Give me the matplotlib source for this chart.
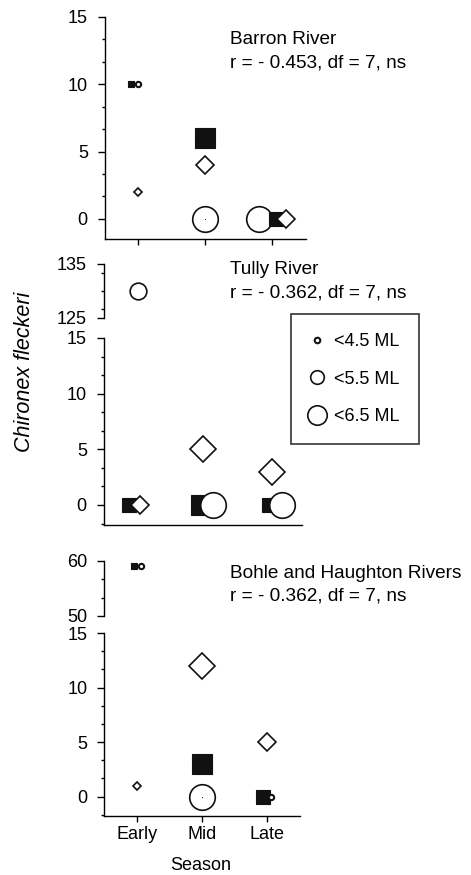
import matplotlib
matplotlib.use('Agg')
import matplotlib.pyplot as plt
from matplotlib.lines import Line2D
from matplotlib.ticker import MultipleLocator, FixedLocator

plt.rcParams['font.family'] = ['Liberation Sans', 'DejaVu Sans']

W, H = 471, 875

seasons = ['Early', 'Mid', 'Late']
rivers = ['Barron River', 'Tully River', 'Bohle and Haughton Rivers']
stats = ['r = - 0.453, df = 7, ns', 'r = - 0.362, df = 7, ns', 'r = - 0.362, df = 7, ns']
size_labels = ['<4.5 ML', '<5.5 ML', '<6.5 ML']

# one entry per point, listed in drawing order
# x = season (1 Early, 2 Mid, 3 Late, with the small side shift of the original),
# size = size class (1 <4.5 ML, 2 <5.5 ML, 3 <6.5 ML)
barron_shape = ['circle', 'circle', 'dot', 'square', 'circle', 'square', 'square', 'diamond', 'diamond', 'diamond']
barron_x = [2.8, 2.0, 2.0, 0.895, 1.0, 2.0, 3.05, 1.0, 2.0, 3.2]
barron_y = [0, 0, 0, 10, 10, 6, 0, 2, 4, 0]
barron_size = [3, 3, 0, 1, 1, 3, 2, 1, 2, 2]

tully_shape = ['square', 'square', 'square', 'circle', 'circle', 'circle', 'diamond', 'diamond', 'diamond']
tully_x = [0.89, 1.98, 3.0, 1.02, 2.15, 3.2, 1.05, 2.0, 3.05]
tully_y = [0, 0, 0, 130, 0, 0, 0, 5, 3]
tully_size = [2, 3, 2, 2, 3, 3, 2, 3, 3]

bohle_shape = ['square', 'square', 'square', 'circle', 'circle', 'dot', 'circle', 'diamond', 'diamond', 'diamond']
bohle_x = [0.95, 2.0, 2.93, 1.07, 2.0, 2.0, 3.05, 1.0, 2.0, 3.0]
bohle_y = [59, 3, 0, 59, 0, 0, 0, 1, 12, 5]
bohle_size = [1, 3, 2, 1, 3, 0, 1, 1, 3, 2]

# marker sizes in points for each size class
sq_ms = {1: 5.0, 2: 10.5, 3: 14.5}
dia_ms = {1: 3.6, 2: 8.9, 3: 13.4}
circ_ms = {1: 3.8, 2: 12.0, 3: 18.4}
legend_ms = [4.0, 9.8, 14.0]
black = '#111111'


def px_axes(left, top, right, bottom):
    return fig.add_axes([left / W, 1 - bottom / H, (right - left) / W, (bottom - top) / H])


def draw_points(ax, shapes, xs, ys, sizes):
    for i, (s, x, y, c) in enumerate(zip(shapes, xs, ys, sizes)):
        z = 3 + i
        if s == 'square':
            ax.plot(x, y, marker='s', ms=sq_ms[c], mfc=black, mec=black, mew=0.8, ls='none', zorder=z)
        elif s == 'diamond':
            ax.plot(x, y, marker='D', ms=dia_ms[c], mfc='white', mec=black, mew=1.2, ls='none', zorder=z)
        elif s == 'circle':
            lw = 1.5 if c == 1 else 1.2
            ax.plot(x, y, marker='o', ms=circ_ms[c], mfc='white', mec=black, mew=lw, ls='none', zorder=z)
        else:
            ax.plot(x, y, marker='o', ms=0.8, mfc=black, mec=black, mew=0, ls='none', zorder=z)


def style_y(ax, lo, hi, major, minor):
    ax.set_ylim(lo, hi)
    ax.set_xlim(0.5, 3.5)
    ax.yaxis.set_major_locator(FixedLocator(major))
    ax.yaxis.set_minor_locator(MultipleLocator(minor))
    ax.tick_params(axis='y', which='major', direction='out', length=5, width=1, labelsize=13, pad=7)
    ax.tick_params(axis='y', which='minor', direction='out', length=2.5, width=1)
    for side in ['top', 'right']:
        ax.spines[side].set_visible(False)
    for side in ['left', 'bottom']:
        ax.spines[side].set_linewidth(1.0)


def top_part(ax, lo, hi):
    style_y(ax, lo, hi, [lo, hi], (hi - lo) / 3)
    ax.spines['bottom'].set_visible(False)
    ax.tick_params(axis='x', bottom=False, labelbottom=False)
    ax.patch.set_alpha(0)


fig = plt.figure(figsize=(W / 100, H / 100), dpi=100)

# Barron River
ax1 = px_axes(104.5, 17, 306, 239)
style_y(ax1, -1.5, 15, [0, 5, 10, 15], 5 / 3)
ax1.set_xticks([1, 2, 3])
ax1.tick_params(axis='x', direction='out', length=4, width=1, labelbottom=False)
draw_points(ax1, barron_shape, barron_x, barron_y, barron_size)

# Tully River (broken axis)
ax2t = px_axes(103.5, 264, 302, 318)
top_part(ax2t, 125, 135)
ax2 = px_axes(103.5, 338, 302, 525)
style_y(ax2, -1.8, 15, [0, 5, 10, 15], 5 / 3)
ax2.tick_params(axis='x', bottom=False, labelbottom=False)
for a in (ax2t, ax2):
    draw_points(a, tully_shape, tully_x, tully_y, tully_size)

# Bohle and Haughton Rivers (broken axis)
ax3t = px_axes(104.3, 560.7, 300, 616)
top_part(ax3t, 50, 60)
ax3 = px_axes(104.3, 633, 300, 816)
style_y(ax3, -1.77, 15, [0, 5, 10, 15], 5 / 3)
ax3.set_xticks([1, 2, 3])
ax3.set_xticklabels(seasons)
ax3.tick_params(axis='x', direction='out', length=4, width=1, labelsize=13, pad=3)
for a in (ax3t, ax3):
    draw_points(a, bohle_shape, bohle_x, bohle_y, bohle_size)

# panel titles
for name, stat, y0 in zip(rivers, stats, [40, 270, 573]):
    fig.text(230 / W, 1 - y0 / H, name, ha='left', va='center', fontsize=13.7)
    fig.text(230 / W, 1 - (y0 + 23) / H, stat, ha='left', va='center', fontsize=13.7)

fig.text(25 / W, 1 - 372 / H, 'Chironex fleckeri', rotation=90, style='italic',
         ha='center', va='center', fontsize=15.5)
fig.text(201 / W, 1 - 866 / H, 'Season', ha='center', va='center', fontsize=13)

# size legend
handles = []
for c, lab in zip([1, 2, 3], size_labels):
    handles.append(Line2D([], [], marker='o', ms=legend_ms[c - 1], mfc='white', mec=black,
                          mew=1.5 if c == 1 else 1.2, ls='none', label=lab))
leg = fig.legend(handles=handles, loc='upper left', bbox_to_anchor=(291 / W, 1 - 314 / H),
                 borderaxespad=0, frameon=True, fancybox=False, edgecolor='black', fontsize=13,
                 borderpad=1.05, handlelength=0.75, handletextpad=0.6, labelspacing=1.15,
                 markerscale=1.0)
leg.get_frame().set_linewidth(1.2)

fig.savefig('out.png', dpi=100)
